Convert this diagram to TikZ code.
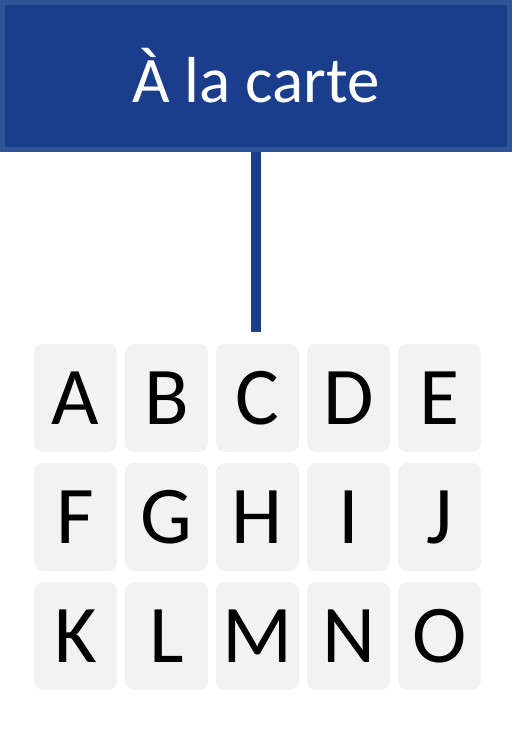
\documentclass[tikz,border=0pt]{standalone}
\usepackage{fontspec}
\setmainfont{Carlito}
\definecolor{navy}{RGB}{26,61,140}
\definecolor{navyedge}{RGB}{47,85,151}
\definecolor{tilegray}{RGB}{242,242,242}

\tikzstyle{tile}=[rectangle,fill=tilegray,rounded corners=9pt,inner sep=0pt,minimum height=108pt,minimum width=83pt,font=\fontsize{82}{82}\selectfont]
\tikzstyle{banner}=[rectangle,draw=navyedge,fill=navy,line width=5pt,inner sep=0pt,minimum height=147pt,minimum width=507pt,text=white,font=\fontsize{65}{65}\selectfont]

\begin{document}
\begin{tikzpicture}[x=1pt,y=-1pt]
\useasboundingbox (0,0) rectangle (517,736);
\node[banner] (title) at (256,76) {À la carte};
\coordinate (stemend) at (256,332);
\draw[navy,line width=10pt] (title.south) -- (stemend);

\node[tile] (kA) at (75.5,398) {A};
\node[tile] (kB) at (166.5,398) {B};
\node[tile] (kC) at (257.5,398) {C};
\node[tile] (kD) at (348.5,398) {D};
\node[tile] (kE) at (439.5,398) {E};

\node[tile] (kF) at (75.5,517) {F};
\node[tile] (kG) at (166.5,517) {G};
\node[tile] (kH) at (257.5,517) {H};
\node[tile] (kI) at (348.5,517) {I};
\node[tile] (kJ) at (439.5,517) {J};

\node[tile] (kK) at (75.5,636) {K};
\node[tile] (kL) at (166.5,636) {L};
\node[tile] (kM) at (257.5,636) {M};
\node[tile] (kN) at (348.5,636) {N};
\node[tile] (kO) at (439.5,636) {O};
\end{tikzpicture}
\end{document}
